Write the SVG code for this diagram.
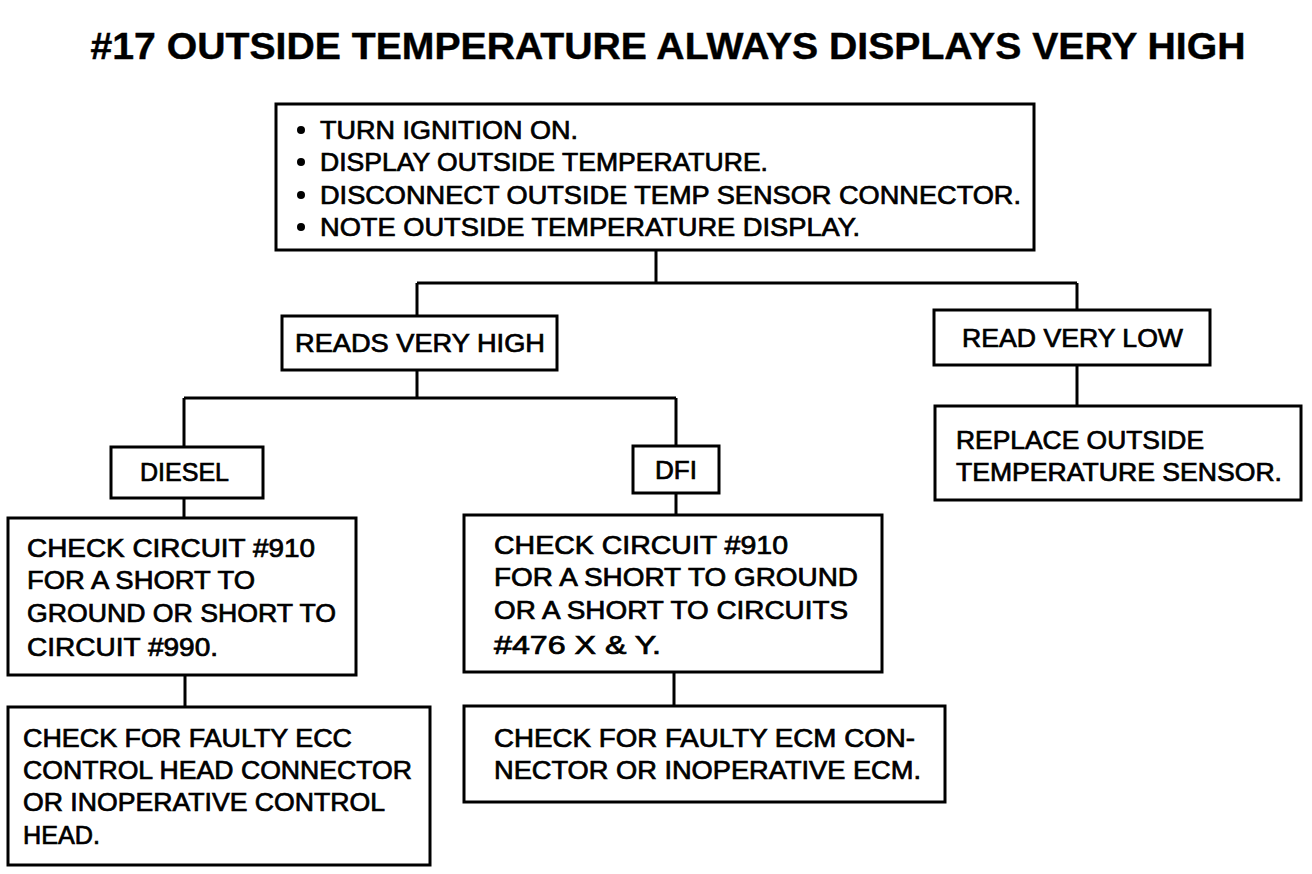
<svg xmlns="http://www.w3.org/2000/svg" width="1312" height="874" viewBox="0 0 1312 874">
<style>
.box{fill:#fff;stroke:#000;stroke-width:3}
.con{fill:none;stroke:#000;stroke-width:3}
text{font-family:"Liberation Sans",Arial,sans-serif;fill:#000;font-size:25px;stroke:#000;stroke-width:0.7}
.t{font-size:37px;font-weight:bold;stroke-width:0.4}
.c{text-anchor:middle}
</style>
<rect width="1312" height="874" fill="#fff"/>
<text class="t c" x="668" y="59" textLength="1155" lengthAdjust="spacingAndGlyphs">#17 OUTSIDE TEMPERATURE ALWAYS DISPLAYS VERY HIGH</text>
<g id="connectors">
<path class="con" d="M656 250V283M417 283H1077M417 283V316M1077 283V310"/>
<path class="con" d="M1077 365V406"/>
<path class="con" d="M417 370V398M184 398H676M184 398V447M676 398V446"/>
<path class="con" d="M184 498V518M676 493V515"/>
<path class="con" d="M185 675V707M674 672V706"/>
</g>
<g id="start">
<rect class="box" x="276" y="104" width="758" height="146"/>
<circle cx="301" cy="130" r="4"/><circle cx="301" cy="162" r="4"/><circle cx="301" cy="195" r="4"/><circle cx="301" cy="227" r="4"/>
<text x="320" y="139" textLength="258" lengthAdjust="spacingAndGlyphs">TURN IGNITION ON.</text>
<text x="320" y="171" textLength="448" lengthAdjust="spacingAndGlyphs">DISPLAY OUTSIDE TEMPERATURE.</text>
<text x="320" y="204" textLength="701" lengthAdjust="spacingAndGlyphs">DISCONNECT OUTSIDE TEMP SENSOR CONNECTOR.</text>
<text x="320" y="236" textLength="540" lengthAdjust="spacingAndGlyphs">NOTE OUTSIDE TEMPERATURE DISPLAY.</text>
</g>
<g id="reads-high">
<rect class="box" x="282" y="316" width="275" height="54"/>
<text x="295" y="352" textLength="250" lengthAdjust="spacingAndGlyphs">READS VERY HIGH</text>
</g>
<g id="read-low">
<rect class="box" x="934" y="310" width="276" height="55"/>
<text x="962" y="347" textLength="221" lengthAdjust="spacingAndGlyphs">READ VERY LOW</text>
</g>
<g id="replace">
<rect class="box" x="935" y="406" width="366" height="94"/>
<text x="956" y="449" textLength="248" lengthAdjust="spacingAndGlyphs">REPLACE OUTSIDE</text>
<text x="956" y="481" textLength="326" lengthAdjust="spacingAndGlyphs">TEMPERATURE SENSOR.</text>
</g>
<g id="diesel">
<rect class="box" x="111" y="447" width="152" height="51"/>
<text x="140" y="481" textLength="89" lengthAdjust="spacingAndGlyphs">DIESEL</text>
</g>
<g id="dfi">
<rect class="box" x="633" y="446" width="86" height="47"/>
<text x="655" y="479" textLength="42" lengthAdjust="spacingAndGlyphs">DFI</text>
</g>
<g id="diesel-check">
<rect class="box" x="8" y="518" width="348" height="157"/>
<text x="27" y="557" textLength="288" lengthAdjust="spacingAndGlyphs">CHECK CIRCUIT #910</text>
<text x="27" y="589" textLength="228" lengthAdjust="spacingAndGlyphs">FOR A SHORT TO</text>
<text x="27" y="622" textLength="309" lengthAdjust="spacingAndGlyphs">GROUND OR SHORT TO</text>
<text x="27" y="656" textLength="191" lengthAdjust="spacingAndGlyphs">CIRCUIT #990.</text>
</g>
<g id="dfi-check">
<rect class="box" x="464" y="515" width="418" height="157"/>
<text x="494" y="554" textLength="294" lengthAdjust="spacingAndGlyphs">CHECK CIRCUIT #910</text>
<text x="494" y="586" textLength="364" lengthAdjust="spacingAndGlyphs">FOR A SHORT TO GROUND</text>
<text x="494" y="619" textLength="354" lengthAdjust="spacingAndGlyphs">OR A SHORT TO CIRCUITS</text>
<text x="494" y="654" textLength="167" lengthAdjust="spacingAndGlyphs">#476 X &amp; Y.</text>
</g>
<g id="ecc-check">
<rect class="box" x="8" y="707" width="422" height="158"/>
<text x="23" y="747" textLength="329" lengthAdjust="spacingAndGlyphs">CHECK FOR FAULTY ECC</text>
<text x="23" y="779" textLength="389" lengthAdjust="spacingAndGlyphs">CONTROL HEAD CONNECTOR</text>
<text x="23" y="811" textLength="362" lengthAdjust="spacingAndGlyphs">OR INOPERATIVE CONTROL</text>
<text x="23" y="844" textLength="77" lengthAdjust="spacingAndGlyphs">HEAD.</text>
</g>
<g id="ecm-check">
<rect class="box" x="464" y="706" width="481" height="96"/>
<text x="494" y="747" textLength="421" lengthAdjust="spacingAndGlyphs">CHECK FOR FAULTY ECM CON-</text>
<text x="494" y="779" textLength="427" lengthAdjust="spacingAndGlyphs">NECTOR OR INOPERATIVE ECM.</text>
</g>
</svg>
